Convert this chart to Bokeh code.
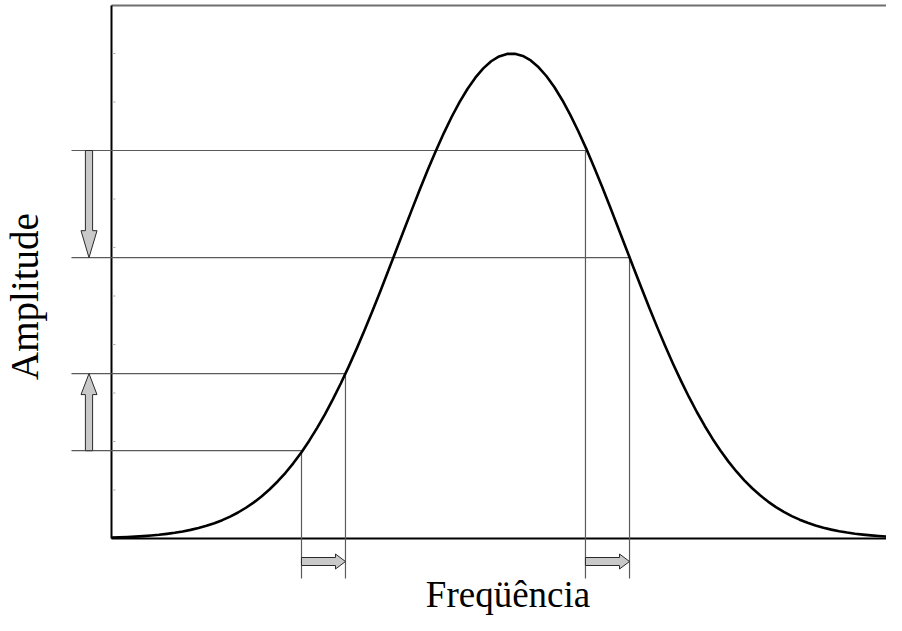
import math
from bokeh.plotting import figure
from bokeh.models import Range1d
from bokeh.core.properties import value
from bokeh.embed import file_html
from bokeh.resources import INLINE

# ---- data ----
freq = list(range(0, 101))
amp = [0.0019, 0.0024, 0.0031, 0.0039, 0.0049, 0.0062, 0.0077, 0.0096, 0.0118, 0.0145,
       0.0178, 0.0216, 0.0262, 0.0316, 0.0378, 0.0451, 0.0536, 0.0634, 0.0745, 0.0872,
       0.1015, 0.1176, 0.1355, 0.1555, 0.1775, 0.2017, 0.2281, 0.2566, 0.2873, 0.3201,
       0.3549, 0.3915, 0.4298, 0.4696, 0.5105, 0.5524, 0.5947, 0.6371, 0.6791, 0.7205,
       0.7606, 0.7991, 0.8354, 0.8691, 0.8997, 0.9268, 0.9501, 0.9693, 0.9840, 0.9940,
       0.9992, 0.9995, 0.9950, 0.9856, 0.9716, 0.9531, 0.9304, 0.9037, 0.8736, 0.8403,
       0.8044, 0.7661, 0.7262, 0.6850, 0.6429, 0.6006, 0.5582, 0.5163, 0.4753, 0.4353,
       0.3968, 0.3599, 0.3249, 0.2918, 0.2608, 0.2320, 0.2053, 0.1808, 0.1585, 0.1382,
       0.1199, 0.1036, 0.0890, 0.0761, 0.0648, 0.0549, 0.0462, 0.0388, 0.0324, 0.0269,
       0.0222, 0.0183, 0.0150, 0.0122, 0.0099, 0.0080, 0.0064, 0.0051, 0.0041, 0.0032,
       0.0025]

level_amp = [0.800, 0.579, 0.340, 0.181]
level_freq = [59.92, 65.49, 29.58, 24.02]

amp_arrow_from = [0.800, 0.181]
amp_arrow_to = [0.579, 0.340]
freq_arrow_from = [24.02, 59.92]
freq_arrow_to = [29.58, 65.49]

minor_ticks = [0.1, 0.2, 0.3, 0.4, 0.5, 0.6, 0.7, 0.8, 0.9, 1.0]

x_label = "Freqüência"
y_label = "Amplitude"

# ---- geometry (pixel scale of the data units) ----
PX_X = 7.91   # px per frequency unit
PX_Y = 485.0  # px per amplitude unit
W, H = 886, 615
LEFT, BASE = 111, 538          # where the axes cross, in canvas px
x_start = -LEFT / PX_X
x_end = (W - LEFT) / PX_X
y_end = BASE / PX_Y
y_start = -(H - BASE) / PX_Y

p = figure(width=W, height=H, x_range=Range1d(x_start, x_end),
           y_range=Range1d(y_start, y_end), output_backend="svg",
           toolbar_location=None, min_border=0,
           x_axis_location=None, y_axis_location=None)
p.outline_line_color = None
p.grid.visible = False
p.background_fill_color = "white"
p.border_fill_color = "white"

top_y = (BASE - 5) / PX_Y

# frame lines
p.line([0, x_end], [top_y, top_y], line_color="#6f6f6f", line_width=2)
p.line([0, 0], [0, top_y], line_color="black", line_width=2)
p.line([0, x_end], [0, 0], line_color="black", line_width=2.2)

# faint minor ticks on the amplitude axis
n = len(minor_ticks)
p.segment(x0=[1 / PX_X] * n, y0=minor_ticks, x1=[4 / PX_X] * n, y1=minor_ticks,
          line_color="#b0b0b0", line_width=1)

# guide lines
m = len(level_amp)
p.segment(x0=[-40 / PX_X] * m, y0=level_amp, x1=level_freq, y1=level_amp,
          line_color="#5a5a5a", line_width=1.2)
p.segment(x0=level_freq, y0=level_amp, x1=level_freq, y1=[-40 / PX_Y] * m,
          line_color="#5a5a5a", line_width=1.2)


def v_arrow(x, ya, yb, shaft_hw, head_hw, head_len):
    s = 1 if yb > ya else -1
    hl = s * head_len / PX_Y
    hx = shaft_hw / PX_X
    Hx = head_hw / PX_X
    xs = [x - hx, x + hx, x + hx, x + Hx, x, x - Hx, x - hx]
    ys = [ya, ya, yb - hl, yb - hl, yb, yb - hl, yb - hl]
    return xs, ys


def h_arrow(y, xa, xb, shaft_hw, head_hw, head_len):
    s = 1 if xb > xa else -1
    hl = s * head_len / PX_X
    hy = shaft_hw / PX_Y
    Hy = head_hw / PX_Y
    xs = [xa, xa, xb - hl, xb - hl, xb, xb - hl, xb - hl]
    ys = [y + hy, y - hy, y - hy, y - Hy, y, y + Hy, y + hy]
    return xs, ys


ax_x = -22.5 / PX_X
arrow_xs, arrow_ys = [], []
for a, b, hlen in zip(amp_arrow_from, amp_arrow_to, [27, 21]):
    xs, ys = v_arrow(ax_x, a, b, 3.6, 8, hlen)
    arrow_xs.append(xs)
    arrow_ys.append(ys)

ax_y = -23 / PX_Y
for a, b in zip(freq_arrow_from, freq_arrow_to):
    xs, ys = h_arrow(ax_y, a, b, 4, 7.5, 10)
    arrow_xs.append(xs)
    arrow_ys.append(ys)

p.patches(arrow_xs, arrow_ys, fill_color="#c9c9c9", line_color="#2a2a2a",
          line_width=1, line_join="miter")

# the curve
p.line(freq, amp, line_color="black", line_width=2.6, line_join="round")

# axis titles
p.text(x=[(507.5 - LEFT) / PX_X], y=[-(594 - BASE) / PX_Y], text=[x_label],
       text_font=value("Liberation Serif"), text_font_size=value("37px"),
       text_align="center", text_baseline="middle", text_color="black")
p.text(x=[(24 - LEFT) / PX_X], y=[(BASE - 296) / PX_Y], text=[y_label], angle=math.pi / 2,
       text_font=value("Liberation Serif"), text_font_size=value("39px"),
       text_align="center", text_baseline="middle", text_color="black")

open("out.html", "w").write(file_html(p, INLINE))
